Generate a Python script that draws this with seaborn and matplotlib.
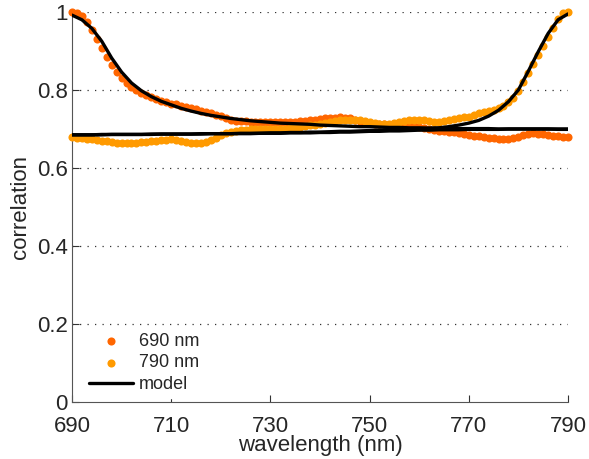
import numpy as np
import pandas as pd
import matplotlib
matplotlib.use("Agg")
import matplotlib.pyplot as plt
import seaborn as sns

# ---------------- data ----------------
wl = list(range(690, 791))  # 1 nm steps

corr_690 = [
    1.000, 0.997, 0.990, 0.975, 0.954, 0.932, 0.908, 0.885, 0.864, 0.845,
    0.830, 0.817, 0.807, 0.799, 0.793, 0.788, 0.782, 0.777, 0.772, 0.768,
    0.765, 0.763, 0.760, 0.757, 0.753, 0.750, 0.746, 0.743, 0.740, 0.737,
    0.733, 0.728, 0.724, 0.721, 0.720, 0.720, 0.719, 0.718, 0.718, 0.718,
    0.719, 0.719, 0.719, 0.719, 0.719, 0.719, 0.720, 0.721, 0.722, 0.723,
    0.725, 0.727, 0.728, 0.729, 0.730, 0.729, 0.727, 0.724, 0.721, 0.718,
    0.716, 0.714, 0.713, 0.712, 0.711, 0.711, 0.711, 0.710, 0.709, 0.707,
    0.705, 0.703, 0.701, 0.698, 0.696, 0.694, 0.693, 0.691, 0.689, 0.687,
    0.685, 0.683, 0.681, 0.679, 0.678, 0.676, 0.675, 0.674, 0.675, 0.677,
    0.680, 0.684, 0.688, 0.689, 0.688, 0.686, 0.684, 0.682, 0.681, 0.680,
    0.680,
]

corr_790 = [
    0.680, 0.678, 0.676, 0.675, 0.674, 0.672, 0.670, 0.668, 0.666, 0.664,
    0.663, 0.663, 0.664, 0.665, 0.666, 0.667, 0.668, 0.669, 0.671, 0.673,
    0.675, 0.673, 0.670, 0.667, 0.665, 0.664, 0.664, 0.667, 0.672, 0.678,
    0.684, 0.689, 0.692, 0.695, 0.697, 0.698, 0.699, 0.699, 0.699, 0.699,
    0.699, 0.700, 0.700, 0.701, 0.702, 0.703, 0.705, 0.707, 0.709, 0.711,
    0.713, 0.716, 0.718, 0.720, 0.722, 0.723, 0.723, 0.723, 0.722, 0.720,
    0.717, 0.715, 0.714, 0.713, 0.714, 0.716, 0.718, 0.720, 0.722, 0.723,
    0.723, 0.722, 0.720, 0.719, 0.719, 0.720, 0.722, 0.725, 0.727, 0.730,
    0.732, 0.736, 0.740, 0.743, 0.746, 0.749, 0.753, 0.760, 0.768, 0.780,
    0.797, 0.820, 0.843, 0.866, 0.890, 0.914, 0.937, 0.958, 0.982, 0.997,
    1.000,
]

model_wl = list(range(690, 791, 2))  # 2 nm steps

model_decay = [
    0.992, 0.980, 0.958, 0.925, 0.882, 0.846, 0.818, 0.798, 0.783, 0.771,
    0.762, 0.753, 0.746, 0.740, 0.735, 0.731, 0.727, 0.724, 0.721, 0.719,
    0.717, 0.715, 0.714, 0.713, 0.712, 0.710, 0.709, 0.708, 0.707, 0.706,
    0.706, 0.705, 0.704, 0.704, 0.703, 0.703, 0.702, 0.702, 0.702, 0.701,
    0.701, 0.701, 0.701, 0.700, 0.700, 0.700, 0.700, 0.700, 0.700, 0.699,
    0.699,
]

model_flat = [
    0.685, 0.685, 0.685, 0.685, 0.686, 0.686, 0.686, 0.686, 0.686, 0.687,
    0.687, 0.687, 0.687, 0.687, 0.688, 0.688, 0.688, 0.688, 0.688, 0.689,
    0.689, 0.689, 0.690, 0.690, 0.690, 0.691, 0.691, 0.692, 0.692, 0.693,
    0.694, 0.694, 0.695, 0.695, 0.696, 0.697, 0.697, 0.698, 0.698, 0.698,
    0.699, 0.699, 0.699, 0.699, 0.700, 0.700, 0.700, 0.700, 0.700, 0.700,
    0.700,
]

model_rise = [
    0.685, 0.685, 0.685, 0.686, 0.686, 0.686, 0.686, 0.686, 0.687, 0.687,
    0.687, 0.687, 0.687, 0.688, 0.688, 0.688, 0.688, 0.689, 0.689, 0.689,
    0.690, 0.690, 0.691, 0.691, 0.692, 0.692, 0.693, 0.694, 0.694, 0.695,
    0.696, 0.697, 0.698, 0.699, 0.700, 0.701, 0.702, 0.703, 0.706, 0.710,
    0.715, 0.722, 0.733, 0.748, 0.770, 0.800, 0.848, 0.898, 0.945, 0.980,
    0.995,
]

xticks = [690, 710, 730, 750, 770, 790]
yticks = [0, 0.2, 0.4, 0.6, 0.8, 1.0]
ytick_labels = ["0", "0.2", "0.4", "0.6", "0.8", "1"]

c690 = "#FF6600"
c790 = "#FF9A00"

# ---------------- plot ----------------
sns.set_style("white")
plt.rcParams["font.family"] = ["Liberation Sans", "DejaVu Sans"]

fig = plt.figure(figsize=(5.89, 4.59), dpi=100)
ax = fig.add_axes([0.1222, 0.1242, 0.8421, 0.8497])

df690 = pd.DataFrame({"wl": wl, "corr": corr_690})
df790 = pd.DataFrame({"wl": wl, "corr": corr_790})

sns.scatterplot(data=df690, x="wl", y="corr", ax=ax, color=c690, s=34,
                linewidth=0, label="690 nm", zorder=3, clip_on=False)
sns.scatterplot(data=df790, x="wl", y="corr", ax=ax, color=c790, s=34,
                linewidth=0, label="790 nm", zorder=4, clip_on=False)

dfm = pd.DataFrame({"wl": model_wl, "decay": model_decay,
                    "flat": model_flat, "rise": model_rise})
sns.lineplot(data=dfm, x="wl", y="decay", ax=ax, color="black", lw=2.4,
             label="model", zorder=5)
sns.lineplot(data=dfm, x="wl", y="flat", ax=ax, color="black", lw=2.4,
             zorder=5)
sns.lineplot(data=dfm, x="wl", y="rise", ax=ax, color="black", lw=2.4,
             zorder=5)

ax.set_xlim(690, 790)
ax.set_ylim(0, 1)
ax.set_xticks(xticks)
ax.set_xticklabels([str(t) for t in xticks])
ax.set_yticks(yticks)
ax.set_yticklabels(ytick_labels)

for y in yticks[1:]:
    ax.axhline(y, color="#333333", lw=0.9, linestyle=(0, (1, 5)), zorder=1)

for side in ["top", "right"]:
    ax.spines[side].set_visible(False)
for side in ["left", "bottom"]:
    ax.spines[side].set_color("#555555")
    ax.spines[side].set_linewidth(0.8)

ax.tick_params(axis="both", direction="in", length=5, width=0.8,
               color="#333333", labelsize=16, pad=3)
ax.tick_params(axis="x", bottom=True, pad=10)
ax.tick_params(axis="y", left=True)

ax.set_xlabel("wavelength (nm)", fontsize=16, labelpad=-1)
ax.set_ylabel("correlation", fontsize=16, labelpad=4)

leg = ax.legend(loc="lower left", bbox_to_anchor=(0.016, 0.0), frameon=True,
                fontsize=13, handlelength=2.45, handletextpad=0.3,
                labelspacing=0.25, borderpad=0.3, borderaxespad=0.2,
                markerscale=1.0)
leg.get_frame().set_facecolor("white")
leg.get_frame().set_edgecolor("white")
leg.get_frame().set_alpha(1.0)
leg.set_zorder(10)

fig.savefig("out.png", dpi=100)
